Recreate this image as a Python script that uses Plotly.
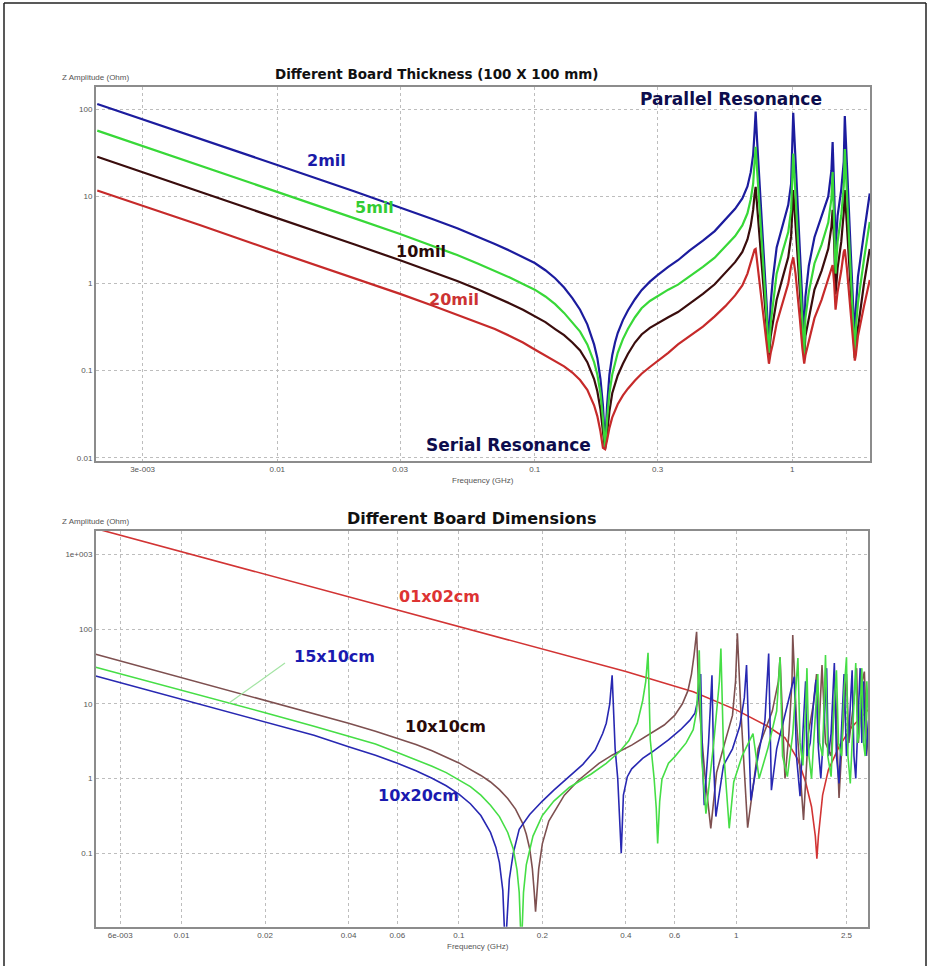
import plotly.graph_objects as go

# ---------------- Top chart: Different Board Thickness ----------------
freq_thick = [0.002, 0.003, 0.005, 0.01, 0.02, 0.03, 0.04, 0.05, 0.06, 0.07, 0.08, 0.09, 0.1, 0.11,
              0.12, 0.13, 0.14, 0.15, 0.16, 0.17, 0.175, 0.18, 0.184, 0.1876, 0.191, 0.195, 0.2,
              0.205, 0.21, 0.22, 0.23, 0.245, 0.26, 0.28, 0.3, 0.33, 0.36, 0.4, 0.45, 0.5, 0.55,
              0.6, 0.64, 0.67, 0.69, 0.705, 0.714, 0.721,
              0.73, 0.75, 0.77, 0.795, 0.812, 0.825, 0.84, 0.87, 0.92, 0.965, 0.99, 1.009, 1.03,
              1.05, 1.07, 1.095, 1.113, 1.125, 1.16, 1.22, 1.3, 1.38, 1.42, 1.435, 1.455, 1.473,
              1.5, 1.55, 1.585, 1.60, 1.63, 1.66, 1.69, 1.725, 1.75, 1.765, 1.8, 1.9, 2.0]
z_2mil = [115, 77, 46, 23, 11.4, 7.5, 5.5, 4.3, 3.45, 2.85, 2.38, 2.0, 1.72, 1.42, 1.15, 0.9, 0.68,
          0.5, 0.34, 0.2, 0.14, 0.08, 0.04, 0.0135, 0.04, 0.09, 0.15, 0.21, 0.27, 0.38, 0.49, 0.66,
          0.84, 1.05, 1.25, 1.55, 1.85, 2.4, 3.1, 4.0, 5.4, 7.2, 9.5, 13, 19, 30, 55, 94,
          45, 11, 3, 0.65, 0.2, 0.6, 1.1, 2.6, 4.9, 8, 14, 91, 26, 7.9, 2.5, 0.6, 0.22, 0.7, 1.6,
          3.4, 5.8, 10, 20, 42, 12, 2.5, 6, 12, 25, 84, 24, 7, 2.1, 0.52, 0.2, 0.5, 1.2, 3.8, 10.8]
z_5mil = [57, 38, 22.8, 11.4, 5.6, 3.7, 2.72, 2.12, 1.7, 1.4, 1.17, 0.99, 0.85, 0.71, 0.58, 0.46,
          0.36, 0.28, 0.2, 0.125, 0.09, 0.055, 0.028, 0.013, 0.028, 0.055, 0.09, 0.125, 0.16, 0.23,
          0.3, 0.41, 0.52, 0.63, 0.72, 0.85, 0.97, 1.2, 1.55, 1.98, 2.65, 3.5, 4.65, 6.4, 9.3, 14,
          25, 37,
          20.6, 6, 1.8, 0.41, 0.16, 0.35, 0.55, 1.3, 2.4, 3.9, 7, 31, 10.2, 3.6, 1.27, 0.36, 0.15,
          0.4, 0.8, 1.7, 2.8, 5, 9.5, 19, 6, 1.3, 3, 6, 13, 35, 11, 3.6, 1.19, 0.34, 0.14, 0.3, 0.6,
          1.9, 5.1]
z_10mil = [28.5, 19, 11.4, 5.7, 2.8, 1.85, 1.37, 1.07, 0.86, 0.71, 0.59, 0.5, 0.42, 0.36, 0.3,
           0.255, 0.21, 0.17, 0.125, 0.08, 0.058, 0.036, 0.02, 0.0125, 0.019, 0.034, 0.055, 0.072,
           0.088, 0.12, 0.155, 0.21, 0.26, 0.31, 0.35, 0.41, 0.47, 0.59, 0.76, 0.98, 1.32, 1.76,
           2.3, 3.2, 4.6, 7, 10.5, 12.9,
           8, 2.9, 1.06, 0.32, 0.145, 0.25, 0.35, 0.65, 1.2, 2, 3.5, 11.8, 4.7, 1.95, 0.83, 0.29,
           0.14, 0.25, 0.4, 0.85, 1.4, 2.5, 4.5, 7, 3, 0.75, 1.5, 3, 6.5, 11.8, 4.7, 1.9, 0.78,
           0.28, 0.14, 0.2, 0.3, 1.0, 2.5]
z_20mil = [11.7, 7.8, 4.7, 2.3, 1.15, 0.76, 0.56, 0.44, 0.36, 0.3, 0.25, 0.21, 0.175, 0.15, 0.13,
           0.112, 0.095, 0.078, 0.06, 0.04, 0.03, 0.02, 0.013, 0.0125, 0.016, 0.022, 0.029, 0.035,
           0.041, 0.052, 0.062, 0.077, 0.092, 0.11, 0.128, 0.16, 0.2, 0.25, 0.32, 0.42, 0.55,
           0.73, 0.95, 1.3, 1.75, 2.2, 2.45, 2.5,
           1.8, 0.9, 0.46, 0.2, 0.12, 0.16, 0.2, 0.35, 0.6, 1.0, 1.6, 2.0, 1.3, 0.75, 0.4, 0.18,
           0.12, 0.15, 0.22, 0.4, 0.65, 1.1, 1.5, 1.63, 1.0, 0.5, 0.8, 1.4, 2.3, 2.47, 1.5, 0.8,
           0.42, 0.2, 0.13, 0.15, 0.25, 0.55, 1.1]

top_xticks = [0.003, 0.01, 0.03, 0.1, 0.3, 1]
top_xtext = ["3e-003", "0.01", "0.03", "0.1", "0.3", "1"]
top_yticks = [0.01, 0.1, 1, 10, 100]
top_ytext = ["0.01", "0.1", "1", "10", "100"]

# ---------------- Bottom chart: Different Board Dimensions ----------------
f_01x02 = [0.0049, 0.01, 0.02, 0.04, 0.1, 0.2, 0.4, 0.7, 1.0, 1.3, 1.5, 1.67, 1.78, 1.87, 1.93,
           1.955, 1.98, 2.05, 2.15, 2.35, 2.6, 3.0]
z_01x02 = [2210, 1083, 541, 271, 108, 54, 27, 14.5, 8.3, 5.0, 3.5, 1.8, 0.9, 0.42, 0.17, 0.085,
           0.17, 0.6, 1.3, 2.67, 4.8, 8.4]

f_10x20 = [0.0049, 0.01, 0.02, 0.03, 0.04, 0.05, 0.06, 0.07, 0.08, 0.09, 0.1, 0.11, 0.12, 0.13,
           0.136, 0.14, 0.144, 0.147, 0.1495, 0.152, 0.157, 0.165, 0.18, 0.2, 0.22, 0.25, 0.28,
           0.31, 0.33, 0.34, 0.35, 0.357, 0.366, 0.374, 0.38, 0.385, 0.392, 0.405, 0.42, 0.46,
           0.5, 0.57, 0.63, 0.68, 0.71, 0.73, 0.74, 0.745, 0.755, 0.767, 0.795, 0.818, 0.83,
           0.845, 0.9, 0.97, 1.03, 1.07, 1.09, 1.11, 1.13, 1.2, 1.27, 1.31, 1.325, 1.34, 1.4,
           1.48, 1.55, 1.62,
           1.65, 1.7, 1.74, 1.78, 1.8, 1.85, 1.9, 1.94, 1.98, 2.02, 2.08, 2.12, 2.15, 2.2, 2.26,
           2.3, 2.35, 2.4, 2.45, 2.5, 2.55, 2.62, 2.66, 2.7, 2.76, 2.8, 2.84, 2.88, 2.94, 3.0]
z_10x20 = [23.5, 11.5, 5.75, 3.8, 2.67, 2.05, 1.6, 1.27, 1.01, 0.8, 0.62, 0.46, 0.32, 0.19, 0.12,
           0.075, 0.032, 0.005, 0.015, 0.045, 0.1, 0.21, 0.33, 0.5, 0.7, 1.06, 1.55, 2.4, 4.0,
           5.5, 10, 24, 2.5, 1.0, 0.35, 0.1, 0.6, 1.06, 1.35, 1.86, 2.3, 3.3, 4.5, 6, 7.5, 12,
           18, 25, 2, 0.44, 3, 24, 1.5, 0.31, 1.5, 2.5, 5, 12, 33, 3, 0.51, 2.0, 6, 47, 3, 0.7,
           2.5, 6, 12, 23,
           2, 0.58, 4, 20, 2, 3, 10, 21, 2.5, 1.0, 6, 30, 2, 4, 35, 2, 0.86, 5, 25, 2, 4, 28, 2,
           1.0, 8, 30, 3, 20, 2, 6]

f_15x10 = [0.0049, 0.01, 0.02, 0.03, 0.04, 0.05, 0.06, 0.07, 0.08, 0.09, 0.1, 0.11, 0.12, 0.13,
           0.14, 0.15, 0.157, 0.162, 0.165, 0.168, 0.171, 0.175, 0.185, 0.2, 0.22, 0.25, 0.3,
           0.34, 0.38, 0.41, 0.44, 0.46, 0.472, 0.481, 0.49, 0.506, 0.515, 0.521, 0.53, 0.54,
           0.57, 0.6, 0.66, 0.7, 0.72, 0.73, 0.736, 0.75, 0.778, 0.83, 0.87, 0.881, 0.9, 0.93,
           0.944, 0.98, 1.05, 1.15, 1.21, 1.3, 1.4, 1.44, 1.47, 1.53, 1.6,
           1.67, 1.7, 1.74, 1.78, 1.8, 1.83, 1.87, 1.92, 1.97, 2.0, 2.05, 2.1, 2.14, 2.2, 2.25,
           2.3, 2.34, 2.4, 2.45, 2.5, 2.53, 2.58, 2.64, 2.7, 2.74, 2.78, 2.84, 2.88, 2.92, 2.96,
           3.0]
z_15x10 = [30.8, 15.3, 7.6, 5.0, 3.7, 2.9, 2.24, 1.8, 1.46, 1.2, 0.97, 0.78, 0.6, 0.44, 0.31, 0.19,
           0.115, 0.06, 0.03, 0.005, 0.03, 0.07, 0.17, 0.32, 0.5, 0.76, 1.15, 1.6, 2.3, 3.2, 5.5,
           11, 20, 48, 3.3, 1.0, 0.4, 0.135, 0.5, 0.98, 1.6, 1.95, 3.0, 4.5, 8, 20, 52, 2.0,
           0.34, 3, 20, 55, 2.5, 0.4, 0.216, 0.9, 2, 4, 1.0, 2.5, 8, 42, 2, 1.06, 4,
           41, 3, 1.5, 8, 30, 2, 1.0, 5, 25, 3, 2, 45, 2, 1.06, 8, 28, 3, 2, 15, 42, 2, 0.86, 6,
           35, 3, 4, 30, 3, 2, 20, 6]

f_10x10 = [0.0049, 0.01, 0.02, 0.03, 0.04, 0.05, 0.06, 0.07, 0.08, 0.09, 0.1, 0.107, 0.12, 0.13,
           0.14, 0.15, 0.16, 0.17, 0.175, 0.18, 0.184, 0.187, 0.189, 0.191, 0.194, 0.2, 0.211,
           0.24, 0.27, 0.32, 0.358, 0.42, 0.47, 0.55, 0.6, 0.64, 0.67, 0.69, 0.705, 0.72, 0.735,
           0.77, 0.81, 0.85, 0.92, 0.97, 0.995, 1.01, 1.04, 1.1, 1.2, 1.35, 1.42, 1.44, 1.5,
           1.55, 1.59, 1.6, 1.65,
           1.75, 1.82, 1.9, 1.95, 1.98, 2.04, 2.1, 2.2, 2.28, 2.32, 2.35, 2.42, 2.5, 2.55, 2.65,
           2.72, 2.76, 2.85, 2.9, 2.95, 3.0]
z_10x10 = [46, 22.5, 11.2, 7.4, 5.5, 4.3, 3.45, 2.85, 2.35, 1.95, 1.62, 1.4, 1.1, 0.9, 0.71, 0.54,
           0.39, 0.25, 0.18, 0.115, 0.063, 0.03, 0.0166, 0.028, 0.062, 0.135, 0.27, 0.6, 0.95,
           1.6, 2.07, 2.8, 3.6, 5.2, 7, 10, 15, 25, 45, 92, 10, 1.2, 0.216, 1.2, 3.5, 7, 20, 88,
           8, 0.22, 2.5, 8, 20, 42, 1.0, 4, 20, 83, 6,
           0.28, 4, 10, 25, 3, 33, 3, 2, 20, 2, 0.55, 4, 25, 3, 10, 30, 3, 20, 27, 5, 2]

bot_xticks = [0.006, 0.01, 0.02, 0.04, 0.06, 0.1, 0.2, 0.4, 0.6, 1, 2.5]
bot_xtext = ["6e-003", "0.01", "0.02", "0.04", "0.06", "0.1", "0.2", "0.4", "0.6", "1", "2.5"]
bot_yticks = [0.1, 1, 10, 100, 1000]
bot_ytext = ["0.1", "1", "10", "100", "1e+003"]

W, H = 929, 966


def px(x):
    return x / W


def py(y):
    return 1 - y / H


fig = go.Figure()

top_series = [
    (z_2mil, "#1c1c9e", "2mil"),
    (z_10mil, "#3a0d0d", "10mil"),
    (z_5mil, "#38d838", "5mil"),
    (z_20mil, "#c62a2a", "20mil"),
]
for z, c, n in top_series:
    fig.add_trace(go.Scatter(x=freq_thick, y=z, mode="lines", name=n,
                             line=dict(color=c, width=2.2), xaxis="x", yaxis="y"))

bot_series = [
    (f_01x02, z_01x02, "#d23434", "01x02cm"),
    (f_10x10, z_10x10, "#7e5050", "10x10cm"),
    (f_10x20, z_10x20, "#2828b2", "10x20cm"),
    (f_15x10, z_15x10, "#46de46", "15x10cm"),
]
for f, z, c, n in bot_series:
    fig.add_trace(go.Scatter(x=f, y=z, mode="lines", name=n,
                             line=dict(color=c, width=1.6), xaxis="x2", yaxis="y2"))

tickfont = dict(family="Liberation Sans, Arial", size=8, color="#555555")
axis_common = dict(type="log", showline=True, mirror=True, linecolor="#8c8c8c", linewidth=1.5,
                   showgrid=True, gridcolor="#bdbdbd", griddash="dot", gridwidth=1,
                   ticks="", tickfont=tickfont, zeroline=False, tickmode="array")

fig.update_layout(
    width=W, height=H, margin=dict(l=0, r=0, t=0, b=0),
    paper_bgcolor="white", plot_bgcolor="white", showlegend=False, hovermode=False,
    xaxis=dict(domain=[px(95.7), px(870)], range=[-2.705, 0.302], anchor="y",
               tickvals=top_xticks, ticktext=top_xtext, **axis_common),
    yaxis=dict(domain=[py(461), py(87.3)], range=[-2.038, 2.253], anchor="x",
               tickvals=top_yticks, ticktext=top_ytext, **axis_common),
    xaxis2=dict(domain=[px(95.7), px(868.3)], range=[-2.31, 0.4766], anchor="y2",
                tickvals=bot_xticks, ticktext=bot_xtext, **axis_common),
    yaxis2=dict(domain=[py(926.7), py(531)], range=[-1.982, 3.312], anchor="x2",
                tickvals=bot_yticks, ticktext=bot_ytext, **axis_common),
)

bold = "DejaVu Sans"
ann = []


def label(text, x, y, size, color, family=bold, bold_=True):
    ann.append(dict(text=("<b>%s</b>" % text) if bold_ else text, x=px(x), y=py(y),
                    xref="paper", yref="paper", xanchor="center", yanchor="middle",
                    showarrow=False, font=dict(family=family, size=size, color=color)))


label("Different Board Thickness (100 X 100 mm)", 436.5, 74, 13.5, "#111111")
label("Different Board Dimensions", 471.5, 518.5, 16, "#111111")
label("Z Amplitude (Ohm)", 95, 77, 8, "#555555", "Liberation Sans, Arial", False)
label("Z Amplitude (Ohm)", 95, 521, 8, "#555555", "Liberation Sans, Arial", False)
label("Frequency (GHz)", 483, 480, 8, "#555555", "Liberation Sans, Arial", False)
label("Frequency (GHz)", 478, 946, 8, "#555555", "Liberation Sans, Arial", False)

label("2mil", 326.7, 161, 16, "#1a1aa8")
label("5mil", 374.5, 207.5, 16, "#33cc33")
label("10mil", 421, 251.5, 16, "#2a0a0a")
label("20mil", 454, 300, 16, "#cc3333")
label("Parallel Resonance", 731.3, 99.5, 17, "#0d0d4d")
label("Serial Resonance", 508.7, 445, 17, "#0d0d4d")

label("01x02cm", 439, 596, 16, "#dd3333")
label("15x10cm", 334.2, 656.7, 16, "#1a1ab0")
label("10x10cm", 445.5, 726.7, 16, "#2a0a0a")
label("10x20cm", 418, 795, 16, "#1a1ab0")

fig.update_layout(annotations=ann)

shapes = [
    dict(type="line", xref="paper", yref="paper", x0=px(285), y0=py(663), x1=px(229), y1=py(703),
         line=dict(color="#a4e4a4", width=1.2)),
    dict(type="line", xref="paper", yref="paper", x0=px(4), y0=py(3), x1=px(4), y1=0,
         line=dict(color="#222222", width=1.5)),
    dict(type="line", xref="paper", yref="paper", x0=px(4), y0=py(3), x1=px(926), y1=py(3),
         line=dict(color="#222222", width=1.5)),
    dict(type="line", xref="paper", yref="paper", x0=px(926), y0=py(3), x1=px(926), y1=0,
         line=dict(color="#222222", width=1.5)),
]
fig.update_layout(shapes=shapes)

fig.write_html("out.html")
